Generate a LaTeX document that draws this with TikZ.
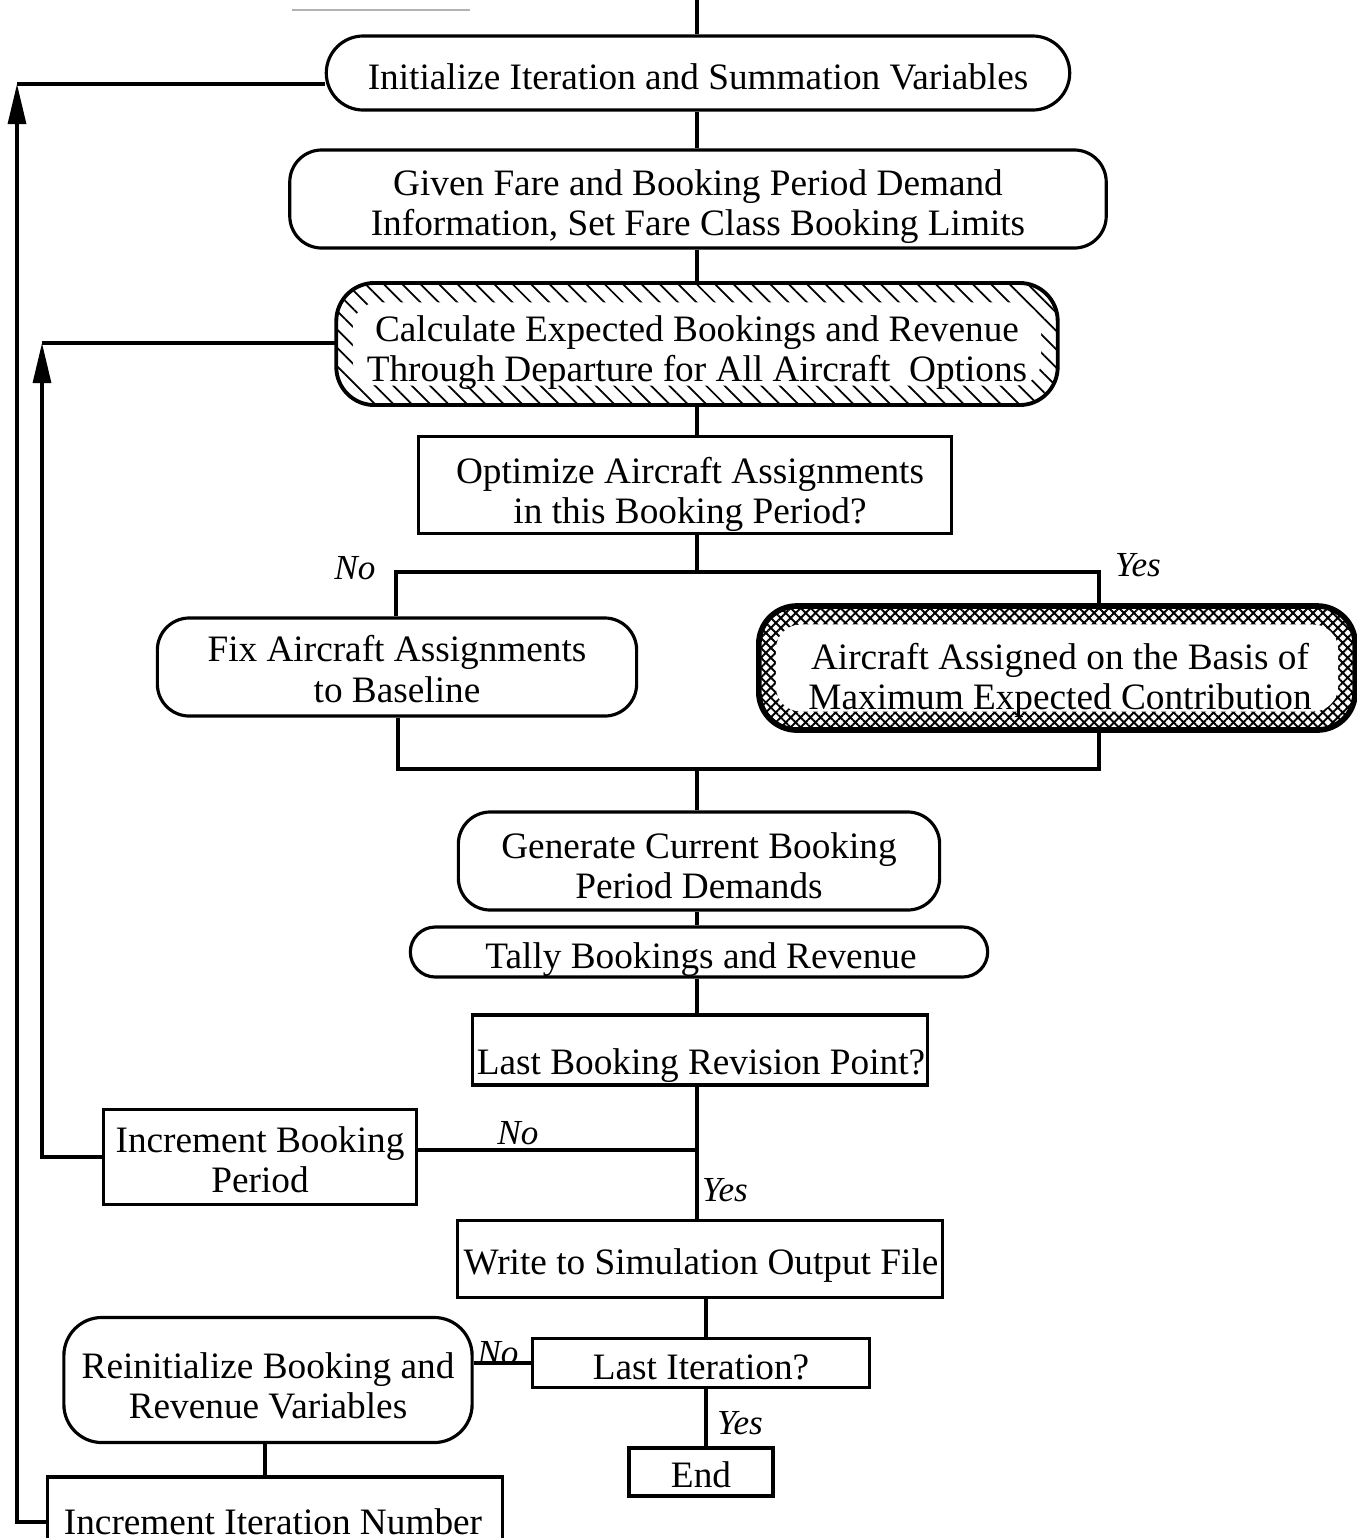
\documentclass[tikz,border=0pt]{standalone}
\usepackage{fontspec}
\setmainfont{Liberation Serif}
\usetikzlibrary{arrows.meta,patterns.meta}

\begin{document}
\begin{tikzpicture}[x=0.01cm,y=-0.01cm,line width=0.9pt,>={Triangle[length=0.4cm,width=0.18cm]},box/.style={draw,inner sep=0pt},rbox/.style={box,rounded corners=0.32cm},txt/.style={align=center,inner sep=0pt,font=\fontsize{10.6}{11.4}\selectfont},hatchbox/.style={draw,line width=1.1pt,rounded corners=0.38cm,pattern={Lines[angle=-45,distance=3.7pt,line width=0.5pt]}},dotbox/.style={draw,line width=1.6pt,rounded corners=0.38cm,pattern={Hatch[angle=45,distance=2pt,line width=0.55pt]}},inbox/.style={draw=none,fill=white,rounded corners=0.25cm,inner sep=0pt},lbl/.style={font=\fontsize{10}{12}\selectfont\itshape,inner sep=1pt}]
\useasboundingbox (0,0) rectangle (1357,1538);
\draw[gray!60,line width=0.5pt] (292,10) -- (470,10);
\coordinate (sp) at (697,0); \coordinate (sp2) at (706,0); \coordinate (sp3) at (265,0);
% boxes
\node[rbox,rounded corners=0.37cm,minimum width=7.43cm,minimum height=0.74cm] (init) at (698,73) {};
\node[rbox,minimum width=8.16cm,minimum height=0.98cm] (given) at (698,199) {};
\node[hatchbox,minimum width=7.21cm,minimum height=1.22cm] (calc) at (697,344) {};
\node[inbox,minimum width=6.88cm,minimum height=0.83cm] (calcin) at (697,344) {};
\node[box,minimum width=5.32cm,minimum height=0.97cm] (optq) at (685,485) {};
\node[rbox,minimum width=4.79cm,minimum height=0.98cm] (fix) at (397,667) {};
\node[dotbox,minimum width=5.96cm,minimum height=1.24cm] (assign) at (1057,668) {};
\node[inbox,minimum width=5.62cm,minimum height=0.87cm] (assignin) at (1057,668) {};
\node[rbox,minimum width=4.81cm,minimum height=0.98cm] (gen) at (699,861) {};
\node[rbox,rounded corners=0.25cm,minimum width=5.77cm,minimum height=0.5cm] (tally) at (699,952) {};
\node[box,minimum width=4.55cm,minimum height=0.7cm] (lastbq) at (700,1050) {};
\node[box,minimum width=3.12cm,minimum height=0.95cm] (incbook) at (260,1157) {};
\node[box,minimum width=4.85cm,minimum height=0.77cm] (write) at (700,1259) {};
\node[box,minimum width=3.36cm,minimum height=0.49cm] (lastiq) at (701,1363) {};
\node[box,minimum width=1.44cm,minimum height=0.48cm] (finish) at (701,1472) {};
\node[rbox,rounded corners=0.38cm,minimum width=4.08cm,minimum height=1.25cm] (reinit) at (268,1380) {};
\node[box,minimum width=4.54cm,minimum height=0.9cm] (inciter) at (275,1522) {};
% box texts
\node[txt] (inittx) at (698,77) {Initialize Iteration and Summation Variables};
\node[txt] (giventx) at (698,207) {Given Fare and Booking Period Demand\\Information, Set Fare Class Booking Limits};
\node[txt] (calctx) at (697,353) {Calculate Expected Bookings and Revenue\\Through Departure for All Aircraft~ Options};
\node[txt] (optqtx) at (690,494) {Optimize Aircraft Assignments\\in this Booking Period?};
\node[txt] (fixtx) at (397,669) {Fix Aircraft Assignments\\to Baseline};
\node[txt] (assigntx) at (1060,680) {Aircraft Assigned on the Basis of\\Maximum Expected Contribution};
\node[txt] (gentx) at (699,866) {Generate Current Booking\\Period Demands};
\node[txt] (tallytx) at (701,960) {Tally Bookings and Revenue};
\node[txt] (lastbqtx) at (701,1066) {Last Booking Revision Point?};
\node[txt] (incbooktx) at (260,1160) {Increment Booking\\Period};
\node[txt] (writetx) at (701,1266) {Write to Simulation Output File};
\node[txt] (lastiqtx) at (701,1367) {Last Iteration?};
\node[txt] (finishtx) at (701,1475) {End};
\node[txt] (reinittx) at (268,1386) {Reinitialize Booking and\\Revenue Variables};
\node[txt] (incitertx) at (273,1522) {Increment Iteration Number};
% branch labels
\node[lbl] (no1) at (355,568) {No};
\node[lbl] (yes1) at (1138,565) {Yes};
\node[lbl] (no2) at (518,1133) {No};
\node[lbl] (yes2) at (725,1190) {Yes};
\node[lbl] (no3) at (498,1353) {No};
\node[lbl] (yes3) at (740,1423) {Yes};
% connectors
\draw (sp) -- (init.north -| sp);
\draw (init.south -| sp) -- (given.north -| sp);
\draw (given.south -| sp) -- (calc.north -| sp);
\draw (calc.south -| sp) -- (optq.north -| sp);
\coordinate (brL) at (396,572); \coordinate (brR) at (1099,572);
\draw (optq.south -| sp) -- (sp |- brL);
\draw (fix.north -| brL) -- (brL) -- (brR) -- (assign.north -| brR);
\coordinate (mgL) at (398,769); \coordinate (mgR) at (1099,769);
\draw (fix.south -| mgL) -- (mgL) -- (mgR) -- (assign.south -| mgR);
\draw (sp |- mgL) -- (gen.north -| sp);
\draw (gen.south -| sp) -- (tally.north -| sp);
\draw (tally.south -| sp) -- (lastbq.north -| sp);
\coordinate (jn) at (697,1150);
\draw (lastbq.south -| sp) -- (write.north -| sp);
\draw (jn) -- (jn -| incbook.east);
\coordinate (rb) at (42,343);
\draw[->] (incbook.west) -| (rb);
\draw (rb) -- (rb -| calc.west);
\draw (write.south -| sp2) -- (lastiq.north -| sp2);
\draw (lastiq.south -| sp2) -- (finish.north -| sp2);
\draw (lastiq.west) -- (lastiq.west -| reinit.east);
\draw (reinit.south -| sp3) -- (inciter.north -| sp3);
\coordinate (ri) at (17,84);
\draw[->] (inciter.west) -| (ri);
\draw (ri) -- (ri -| init.west);
\end{tikzpicture}
\end{document}
